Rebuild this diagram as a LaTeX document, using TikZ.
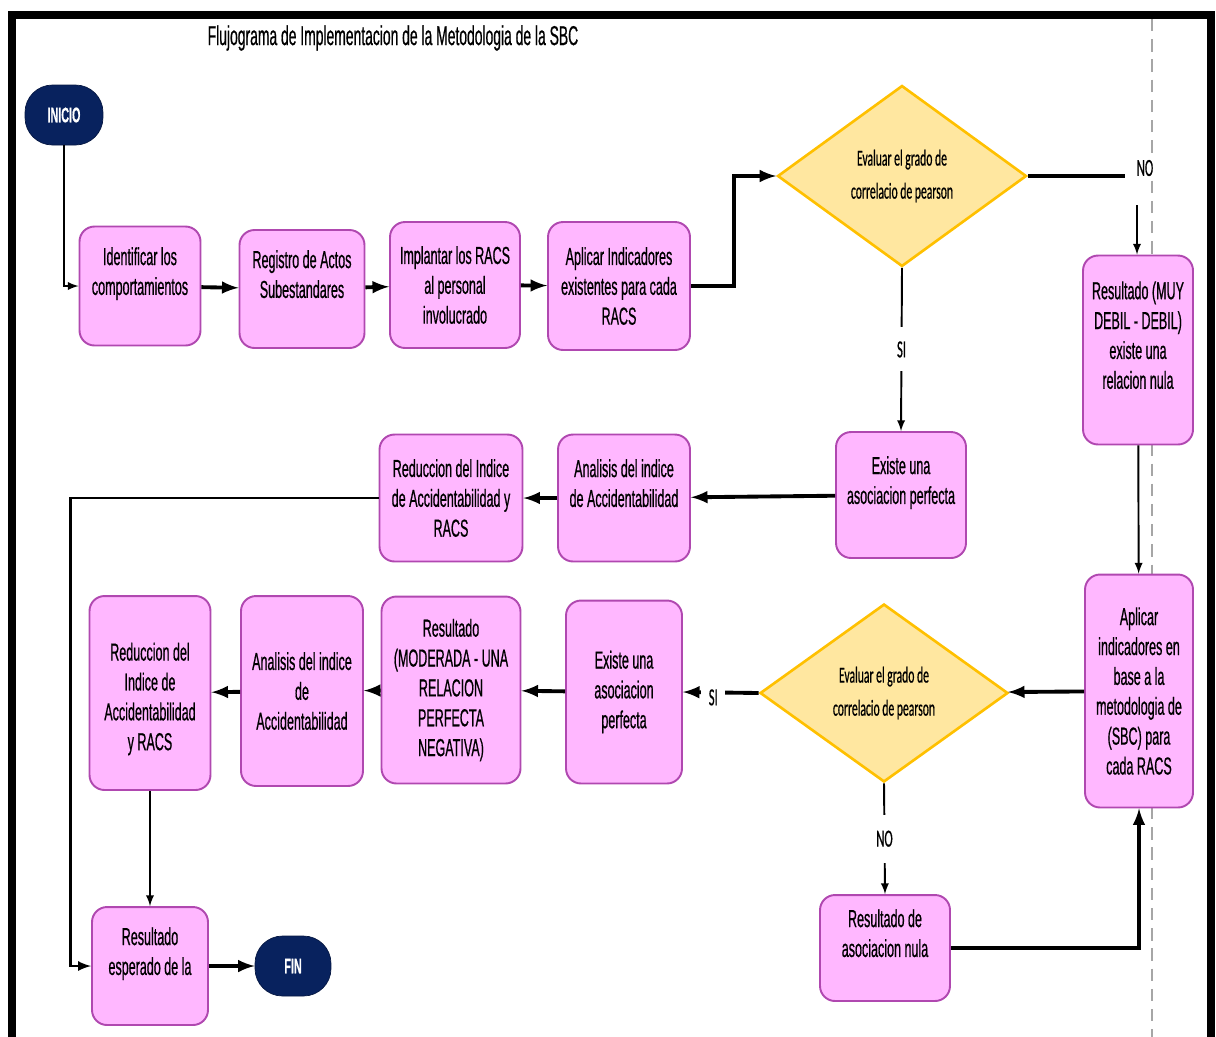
\documentclass[tikz,border=0pt]{standalone}
\usepackage{fontspec}
\setmainfont{Liberation Sans}[FakeStretch=0.51,FakeBold=0.6]
\newfontfamily\calib{Carlito}[FakeStretch=0.51,FakeBold=0.5]
\usetikzlibrary{shapes.geometric}
\definecolor{rosa}{RGB}{255,183,255}
\definecolor{morado}{RGB}{176,72,176}
\definecolor{marino}{RGB}{8,34,94}
\definecolor{crema}{RGB}{255,231,160}
\definecolor{oro}{RGB}{255,192,0}

\begin{document}
\begin{tikzpicture}[x=0.02cm,y=-0.02cm]
	\tikzstyle{every node}+=[inner sep=0pt]
	\tikzstyle{caja}=[draw=morado,fill=rosa,line width=1.1pt,rounded corners=0.3cm,align=center,font=\fontsize{14}{17}\selectfont]
	\tikzstyle{term}=[draw=marino!70!black,fill=marino,rounded corners=0.55cm,text=white,font=\fontsize{12}{14}\selectfont\bfseries,minimum width=1.56cm,minimum height=1.2cm]
	\tikzstyle{decision}=[diamond,draw=oro,fill=crema,line width=1.5pt,align=center,font=\calib\fontsize{13}{18.8}\selectfont,minimum width=4.98cm,minimum height=3.62cm]
	\tikzstyle{etiq}=[fill=white,font=\calib\fontsize{14}{16}\selectfont]
	\tikzstyle{flecha}=[line width=2.2pt,-latex]
	\tikzstyle{flechafina}=[line width=1.1pt,-latex]
	\useasboundingbox (0,0) rectangle (1216,1036);
	\draw[line width=4.5pt] (12,1060) -- (12,15) -- (1211,15) -- (1211,1060);
	\draw[gray!70,dash pattern=on 7pt off 4.5pt,line width=0.6pt] (1152,19) -- (1152,1060);
	\node[font=\fontsize{15.5}{18}\selectfont] (titulo) at (393,38) {Flujograma de Implementacion de la Metodologia de la SBC};
	\node[term] (inicio) at (64,115) {INICIO};
	\node[caja,minimum width=2.42cm,minimum height=2.38cm] (ident) at (140,286) {Identificar los\\comportamientos\\~};
	\node[caja,minimum width=2.5cm,minimum height=2.36cm] (registro) at (302,289) {Registro de Actos\\Subestandares\\~};
	\node[caja,minimum width=2.6cm,minimum height=2.52cm] (implantar) at (455,285) {Implantar los RACS\\al personal\\involucrado};
	\node[caja,minimum width=2.84cm,minimum height=2.56cm] (aplicar) at (619,286) {Aplicar Indicadores\\existentes para cada\\RACS};
	\node[decision] (dia1) at (902,176) {Evaluar el grado de\\correlacio de pearson\hspace{0.2cm}};
	\node[caja,minimum width=2.2cm,minimum height=3.78cm] (muydebil) at (1138,350) {Resultado (MUY\\DEBIL - DEBIL)\\existe una\\relacion nula\\~};
	\node[caja,minimum width=2.6cm,minimum height=2.52cm] (existe1) at (901,495) {Existe una\\asociacion perfecta\\~};
	\node[caja,minimum width=2.64cm,minimum height=2.54cm] (analisis1) at (624,498) {Analisis del indice\\de Accidentabilidad\\~};
	\node[caja,minimum width=2.86cm,minimum height=2.54cm] (reduccion1) at (451,498) {Reduccion del Indice\\de Accidentabilidad y\\RACS};
	\node[caja,minimum width=2.16cm,minimum height=4.66cm] (sbc) at (1139,691) {Aplicar\\indicadores en\\base a la\\metodologia de\\(SBC) para\\cada RACS};
	\node[decision,minimum width=4.96cm,minimum height=3.56cm] (dia2) at (884,693) {Evaluar el grado de\\correlacio de pearson\hspace{0.2cm}};
	\node[caja,minimum width=2.6cm,minimum height=2.12cm] (nula) at (885,948) {Resultado de\\asociacion nula\\~};
	\node[caja,minimum width=2.32cm,minimum height=3.66cm] (existe2) at (624,692) {Existe una\\asociacion\\perfecta};
	\node[caja,minimum width=2.78cm,minimum height=3.74cm] (moderada) at (451,690) {Resultado\\(MODERADA - UNA\\RELACION\\PERFECTA\\NEGATIVA)};
	\node[caja,minimum width=2.44cm,minimum height=3.8cm] (analisis2) at (302,691) {Analisis del indice\\de\\Accidentabilidad};
	\node[caja,minimum width=2.42cm,minimum height=3.88cm] (reduccion2) at (150,693) {~\\Reduccion del\\Indice de\\Accidentabilidad\\y RACS};
	\node[caja,minimum width=2.32cm,minimum height=2.36cm] (esperado) at (150,966) {Resultado\\esperado de la\\~};
	\node[term,minimum width=1.52cm] (fin) at (293,966) {FIN};
	\coordinate (c1) at (1125,176);
	\coordinate (c2) at (1137,205);
	\node[etiq] (no1) at (1145,168) {NO};
	\draw[flechafina] (inicio) |- (ident);
	\draw[flecha] (ident) -- (registro);
	\draw[flecha] (registro) -- (implantar);
	\draw[flecha] (implantar) -- (aplicar);
	\draw[flecha] (aplicar.east) -- ++(43,0) |- (dia1.west);
	\draw[line width=2.2pt] (dia1.east) -- (c1);
	\draw[flechafina] (c2) -- (c2 |- muydebil.north);
	\draw[flechafina] (dia1.south) -- node[etiq,inner xsep=4pt,inner ysep=0.28cm]{SI} (existe1.north);
	\draw[flecha] (existe1) -- (analisis1);
	\draw[flecha] (analisis1) -- (reduccion1);
	\draw[flechafina,line width=1.5pt] (reduccion1.west) -- ++(-308,0) |- (esperado.west);
	\draw[flechafina] (muydebil) -- (sbc);
	\draw[flecha] (sbc) -- (dia2);
	\draw[flecha] (dia2.west) -- node[pos=0.6,etiq,inner xsep=0.15cm,inner ysep=2pt,yshift=-0.1cm]{SI} (existe2.east);
	\draw[flechafina] (dia2.south) -- node[etiq,inner xsep=4pt,inner ysep=0.32cm]{NO} (nula.north);
	\draw[flecha] (nula.east) -| (sbc.south);
	\draw[flecha] (existe2) -- (moderada);
	\draw[flecha] (moderada) -- (analisis2);
	\draw[flecha] (analisis2) -- (reduccion2);
	\draw[flechafina] (reduccion2) -- (esperado);
	\draw[flecha] (esperado) -- (fin);
\end{tikzpicture}
\end{document}
